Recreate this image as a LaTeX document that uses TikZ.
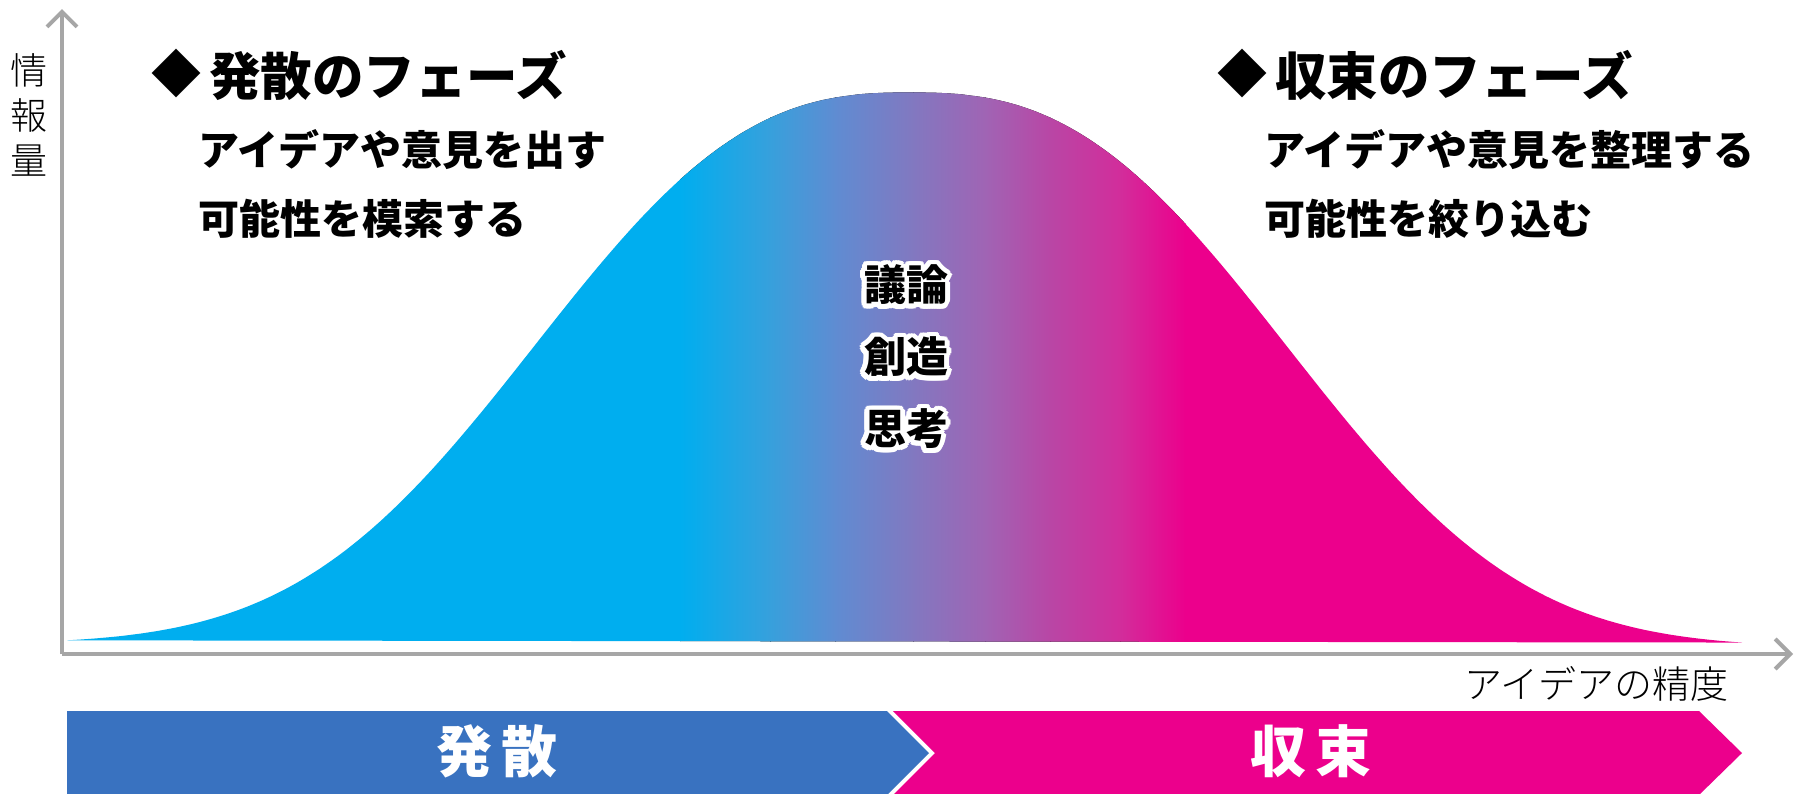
\documentclass[tikz,border=0pt]{standalone}
\usepackage{fontspec}
\usetikzlibrary{arrows.meta}
\newfontfamily\jp{Noto Sans CJK JP}
\IfFontExistsTF{Noto Sans CJK JP Light}{\newfontfamily\jpl{Noto Sans CJK JP Light}}{\newfontfamily\jpl{Noto Sans CJK JP}}
\definecolor{cy}{RGB}{0,174,239}
\definecolor{mg}{RGB}{236,0,140}
\definecolor{ga}{RGB}{55,160,220}
\definecolor{gb}{RGB}{95,140,210}
\definecolor{gc}{RGB}{130,120,192}
\definecolor{gd}{RGB}{160,100,180}
\definecolor{ge}{RGB}{185,70,165}
\definecolor{gf}{RGB}{210,45,155}
\definecolor{bandblue}{RGB}{57,114,192}
\definecolor{axgray}{RGB}{166,166,166}
\newcommand\halo[1]{%
  \foreach \a in {0,20,...,340}{%
    \pgfmathsetlengthmacro\hx{5pt*cos(\a)}%
    \pgfmathsetlengthmacro\hy{5pt*sin(\a)}%
    \rlap{\hspace*{\hx}\raisebox{\hy}{\textcolor{white}{#1}}}%
  }#1}
\tikzset{
  axisline/.style={draw=axgray, line width=4pt, -{Straight Barb[length=15pt,width=30pt]}},
  head/.style={font=\jp\bfseries\fontsize{51.5pt}{60pt}\selectfont, anchor=west, inner sep=0pt},
  dia/.style={font=\jp\fontsize{50pt}{60pt}\selectfont, inner sep=0pt},
  sub/.style={font=\jp\bfseries\fontsize{41pt}{48pt}\selectfont, anchor=west, inner sep=0pt},
  midword/.style={font=\jp\bfseries\fontsize{42pt}{50pt}\selectfont, inner sep=0pt},
  axlabel/.style={font=\jpl\fontsize{38pt}{45pt}\selectfont, inner sep=0pt},
  bandtext/.style={font=\jp\bfseries\fontsize{56pt}{60pt}\selectfont, text=white, inner sep=0pt},
}
\begin{document}
\begin{tikzpicture}[x=1pt,y=-1pt]
\useasboundingbox[fill=white] (0,0) rectangle (1806,793);
% bell curve with gradient
\begin{scope}
  \clip plot[domain=67:1742, samples=300, smooth] (\x,{644+(\x-67)*0.0018-553*exp(-((abs(\x-911)+0.01)/454)^2.6)}) -- cycle;
  \fill[cy] (50,80) rectangle (681,660);
  \fill[left color=cy, right color=ga] (680,80) rectangle (771,660);
  \fill[left color=ga, right color=gb] (770,80) rectangle (836,660);
  \fill[left color=gb, right color=gc] (835,80) rectangle (914,660);
  \fill[left color=gc, right color=gd] (913,80) rectangle (986,660);
  \fill[left color=gd, right color=ge] (985,80) rectangle (1051,660);
  \fill[left color=ge, right color=gf] (1050,80) rectangle (1121,660);
  \fill[left color=gf, right color=mg] (1120,80) rectangle (1186,660);
  \fill[mg] (1185,80) rectangle (1760,660);
\end{scope}
% axes
\coordinate (O) at (62,654);
\coordinate (Ytop) at (62,9);
\coordinate (Xend) at (1793,654);
\draw[axisline] (O) -- (Ytop);
\draw[axisline] (O) -- (Xend);
\node[axlabel, align=center, font=\jpl\fontsize{37pt}{45pt}\selectfont] (ylab) at (29,115) {情\\報\\量};
\node[axlabel, anchor=east] (xlab) at (1729,684) {アイデアの精度};
% left texts
\node[dia] (d1) at (176,73) {◆};
\node[head] (h1) at (209,75) {発散のフェーズ};
\node[sub] (s1a) at (198,150) {アイデアや意見を出す};
\node[sub] (s1b) at (198,219) {可能性を模索する};
% right texts
\node[dia] (d2) at (1242,73) {◆};
\node[head] (h2) at (1275,75) {収束のフェーズ};
\node[sub] (s2a) at (1264,150) {アイデアや意見を整理する};
\node[sub] (s2b) at (1264,219) {可能性を絞り込む};
% center words
\node[midword] (w1) at (906,285) {\halo{議論}};
\node[midword] (w2) at (906,357) {\halo{創造}};
\node[midword] (w3) at (906,429) {\halo{思考}};
% bottom bands
\fill[bandblue] (67,711) -- (887,711) -- (929,753) -- (887,795) -- (67,795) -- cycle;
\fill[mg] (893,711) -- (1699,711) -- (1742,753) -- (1699,795) -- (893,795) -- (935,753) -- cycle;
\node[bandtext] (b1) at (497,751) {発\hspace{10pt}散};
\node[bandtext] (b2) at (1311,751) {収\hspace{10pt}束};
\end{tikzpicture}
\end{document}
